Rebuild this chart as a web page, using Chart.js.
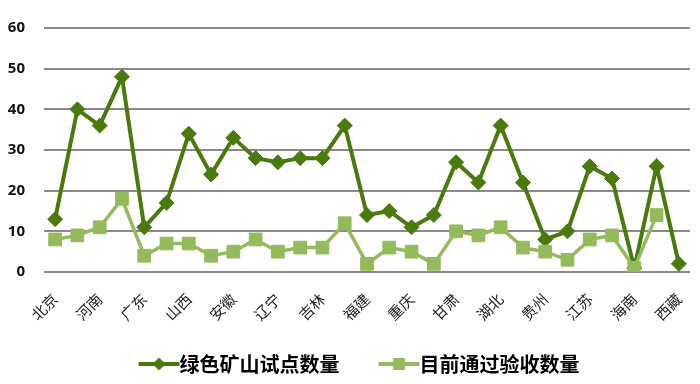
<!DOCTYPE html>
<html><head><meta charset="utf-8">
<script src="https://cdn.jsdelivr.net/npm/chart.js@4"></script>
<style>html,body{margin:0;padding:0;background:#fff}#wrap{width:700px;height:384px}</style>
</head><body><div id="wrap"><canvas id="c" width="700" height="384"></canvas></div>
<script>
// Categories (only every other province is labelled in the source chart)
const categories = ['北京','','河南','','广东','','山西','','安徽','','辽宁','','吉林','','福建','','重庆','','甘肃','','湖北','','贵州','','江苏','','海南','','西藏'];
const pilotCounts = [13,40,36,48,11,17,34,24,33,28,27,28,28,36,14,15,11,14,27,22,36,22,8,10,26,23,1,26,2];
const acceptedCounts = [8,9,11,18,4,7,7,4,5,8,5,6,6,12,2,6,5,2,10,9,11,6,5,3,8,9,1,14,null];
const seriesNames = ['绿色矿山试点数量','目前通过验收数量'];
const yMin = 0, yMax = 60, yStep = 10;

const DARK = '#4A7A0E', LIGHT = '#93BB5C';

// legend icon: line with marker, drawn in the right part of an 84px-wide image
function legendIcon(color, style){
  const c = document.createElement('canvas'); c.width = 84; c.height = 16;
  const g = c.getContext('2d');
  g.strokeStyle = color; g.lineWidth = 4;
  g.beginPath(); g.moveTo(41,8); g.lineTo(82,8); g.stroke();
  g.fillStyle = color; g.beginPath();
  if (style === 'diamond') { g.moveTo(61.5,1.5); g.lineTo(68,8); g.lineTo(61.5,14.5); g.lineTo(55,8); g.closePath(); }
  else { g.rect(55.5,2,12,12); }
  g.fill();
  return c;
}
const icons = [legendIcon(DARK,'diamond'), legendIcon(LIGHT,'square')];

const legendShift = {
  id: 'legendShift',
  afterLayout(chart) {
    if (chart.legend) { chart.legend.left -= 5; chart.legend.right -= 5; }
  }
};

new Chart(document.getElementById('c'), {
  type: 'line',
  data: {
    labels: categories,
    datasets: [
      { label: seriesNames[0], data: pilotCounts, borderColor: DARK, backgroundColor: DARK,
        borderWidth: 4, pointStyle: 'rectRot', pointRadius: 7.5, pointHoverRadius: 7.5,
        pointBorderWidth: 1, pointBorderColor: DARK, tension: 0, order: 1 },
      { label: seriesNames[1], data: acceptedCounts, borderColor: LIGHT, backgroundColor: LIGHT,
        borderWidth: 3.5, pointStyle: 'rect', pointRadius: 9, pointHoverRadius: 9,
        pointBorderWidth: 1, pointBorderColor: LIGHT, tension: 0, order: 0, spanGaps: false }
    ]
  },
  plugins: [legendShift],
  options: {
    responsive: false, animation: false, devicePixelRatio: 1,
    layout: { padding: { top: 27, right: 1, left: 0, bottom: 0 } },
    plugins: {
      tooltip: { enabled: false },
      legend: {
        position: 'bottom', align: 'center',
        labels: {
          usePointStyle: true, pointStyleWidth: 60, padding: 10, color: '#000',
          font: { family: '"Noto Sans CJK SC", sans-serif', size: 20, weight: 'bold' },
          generateLabels: (chart) => chart.data.datasets.map((ds, i) => ({
            text: ds.label, pointStyle: icons[i], fillStyle: ds.borderColor,
            strokeStyle: ds.borderColor, lineWidth: 0, hidden: false, datasetIndex: i, fontColor: '#000'
          }))
        }
      }
    },
    scales: {
      x: {
        offset: true,
        grid: { display: false, drawTicks: false },
        border: { display: false },
        ticks: { autoSkip: false, minRotation: 45, maxRotation: 45, padding: 18, color: '#222',
                 font: { family: '"Noto Sans CJK SC", sans-serif', size: 15 } },
        afterFit: (s) => { s.height = 72; s.paddingLeft = 0; s.paddingRight = 0; }
      },
      y: {
        min: yMin, max: yMax,
        grid: { color: '#8a8a8a', lineWidth: 2, drawTicks: false },
        border: { display: false },
        ticks: { stepSize: yStep, padding: 19, color: '#111',
                 font: { family: '"Noto Sans", sans-serif', size: 15, weight: 'bold' } },
        afterFit: (s) => { s.width = 44; }
      }
    }
  }
});
</script>
</body></html>
